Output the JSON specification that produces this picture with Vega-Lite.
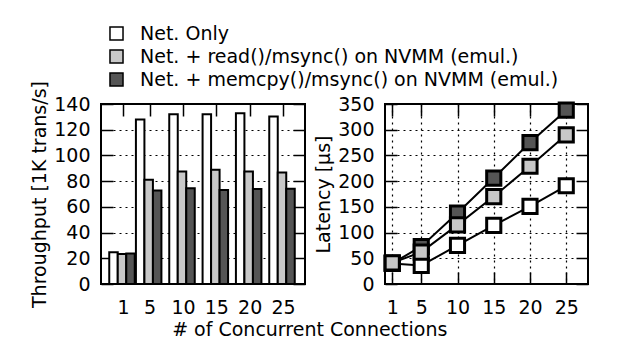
{
  "$schema": "https://vega.github.io/schema/vega-lite/v6.json",
  "padding": {"left": 29, "top": 24, "right": 5, "bottom": 5},
  "config": {
    "font": "DejaVu Sans",
    "view": {"stroke": "black", "strokeWidth": 2},
    "axis": {
      "labelFontSize": 19, "titleFontSize": 19, "titleFontWeight": "normal",
      "labelColor": "black", "titleColor": "black", "tickColor": "black",
      "tickWidth": 1.5, "tickSize": -12, "domain": false,
      "gridColor": "black", "gridDash": [2, 4], "gridWidth": 1.2, "gridOpacity": 1,
      "titlePadding": 4
    },
    "axisX": {"labelPadding": 26},
    "axisY": {"labelPadding": 23}
  },
  "datasets": {
    "perf": [
      {"conn": 1, "series": "Net. + memcpy()/msync() on NVMM (emul.)", "throughput": 23.8, "latency": 40},
      {"conn": 5, "series": "Net. + memcpy()/msync() on NVMM (emul.)", "throughput": 72.7, "latency": 73},
      {"conn": 10, "series": "Net. + memcpy()/msync() on NVMM (emul.)", "throughput": 74.5, "latency": 138},
      {"conn": 15, "series": "Net. + memcpy()/msync() on NVMM (emul.)", "throughput": 73.2, "latency": 206},
      {"conn": 20, "series": "Net. + memcpy()/msync() on NVMM (emul.)", "throughput": 73.8, "latency": 275},
      {"conn": 25, "series": "Net. + memcpy()/msync() on NVMM (emul.)", "throughput": 74, "latency": 338},
      {"conn": 1, "series": "Net. Only", "throughput": 24.6, "latency": 40},
      {"conn": 5, "series": "Net. Only", "throughput": 128, "latency": 36},
      {"conn": 10, "series": "Net. Only", "throughput": 132, "latency": 75},
      {"conn": 15, "series": "Net. Only", "throughput": 132, "latency": 114},
      {"conn": 20, "series": "Net. Only", "throughput": 132.8, "latency": 151},
      {"conn": 25, "series": "Net. Only", "throughput": 130.2, "latency": 191},
      {"conn": 1, "series": "Net. + read()/msync() on NVMM (emul.)", "throughput": 23.3, "latency": 41},
      {"conn": 5, "series": "Net. + read()/msync() on NVMM (emul.)", "throughput": 81, "latency": 62},
      {"conn": 10, "series": "Net. + read()/msync() on NVMM (emul.)", "throughput": 87.5, "latency": 115},
      {"conn": 15, "series": "Net. + read()/msync() on NVMM (emul.)", "throughput": 88.8, "latency": 170},
      {"conn": 20, "series": "Net. + read()/msync() on NVMM (emul.)", "throughput": 87.5, "latency": 229},
      {"conn": 25, "series": "Net. + read()/msync() on NVMM (emul.)", "throughput": 86.7, "latency": 290}
    ]
  },
  "title": {"text": "# of Concurrent Connections", "orient": "bottom", "anchor": "middle", "fontSize": 19, "fontWeight": "normal", "color": "black", "offset": 3},
  "spacing": 80,
  "bounds": "flush",
  "hconcat": [
    {
      "width": 204,
      "height": 180,
      "data": {"name": "perf"},
      "resolve": {"axis": {"x": "independent", "y": "independent"}},
      "layer": [
        {
          "transform": [{"filter": "datum.series === 'Net. Only'"}],
          "mark": {"type": "bar", "stroke": "black", "strokeWidth": 2, "size": 8.5, "xOffset": -9.5},
          "encoding": {
            "x": {"field": "conn", "type": "quantitative", "scale": {"domain": [-2.3, 28.3], "nice": false, "zero": false, "padding": 0},
                  "axis": {"values": [1, 5, 10, 15, 20, 25], "title": null, "grid": false}},
            "y": {"field": "throughput", "type": "quantitative", "scale": {"domain": [0, 140], "nice": false},
                  "axis": {"values": [0, 20, 40, 60, 80, 100, 120, 140], "title": "Throughput [1K trans/s]", "grid": true}},
            "color": {"field": "series", "type": "nominal",
                      "scale": {"domain": ["Net. Only", "Net. + read()/msync() on NVMM (emul.)", "Net. + memcpy()/msync() on NVMM (emul.)"],
                                "range": ["#ffffff", "#c8c8c8", "#555555"]},
                      "legend": {"orient": "none", "legendX": 6, "legendY": -80, "title": null, "labelFontSize": 19, "labelColor": "black",
                                 "symbolType": "square", "symbolSize": 170, "rowPadding": 2, "labelOffset": 14, "padding": 0, "labelLimit": 600,
                                 "symbolOpacity": 1,
                                 "encode": {"symbols": {"update": {"stroke": {"value": "black"}, "strokeWidth": {"value": 2}}}}}}
          }
        },
        {
          "transform": [{"filter": "datum.series === 'Net. + read()/msync() on NVMM (emul.)'"}],
          "mark": {"type": "bar", "stroke": "black", "strokeWidth": 2, "size": 8.5, "xOffset": -1},
          "encoding": {
            "x": {"field": "conn", "type": "quantitative", "axis": null},
            "y": {"field": "throughput", "type": "quantitative", "axis": null},
            "color": {"field": "series", "type": "nominal"}
          }
        },
        {
          "transform": [{"filter": "datum.series === 'Net. + memcpy()/msync() on NVMM (emul.)'"}],
          "mark": {"type": "bar", "stroke": "black", "strokeWidth": 2, "size": 8.5, "xOffset": 7.5},
          "encoding": {
            "x": {"field": "conn", "type": "quantitative",
                  "axis": {"orient": "top", "values": [1, 5, 10, 15, 20, 25], "labels": false, "title": null, "grid": false}},
            "y": {"field": "throughput", "type": "quantitative",
                  "axis": {"orient": "right", "values": [0, 20, 40, 60, 80, 100, 120, 140], "labels": false, "title": null, "grid": false}},
            "color": {"field": "series", "type": "nominal"}
          }
        }
      ]
    },
    {
      "width": 203,
      "height": 180,
      "data": {"name": "perf"},
      "resolve": {"axis": {"x": "independent", "y": "independent"}},
      "layer": [
        {
          "mark": {"type": "line", "color": "black", "strokeWidth": 2},
          "encoding": {
            "x": {"field": "conn", "type": "quantitative", "scale": {"domain": [0, 28], "nice": false, "zero": false},
                  "axis": {"values": [1, 5, 10, 15, 20, 25], "title": null, "grid": true}},
            "y": {"field": "latency", "type": "quantitative", "scale": {"domain": [0, 350], "nice": false},
                  "axis": {"values": [0, 50, 100, 150, 200, 250, 300, 350], "title": "Latency [μs]", "grid": true}},
            "detail": {"field": "series", "type": "nominal"}
          }
        },
        {
          "mark": {"type": "point", "shape": "square", "filled": true, "stroke": "black", "strokeWidth": 3, "size": 200, "opacity": 1},
          "encoding": {
            "x": {"field": "conn", "type": "quantitative",
                  "axis": {"orient": "top", "values": [1, 5, 10, 15, 20, 25], "labels": false, "title": null, "grid": false}},
            "y": {"field": "latency", "type": "quantitative",
                  "axis": {"orient": "right", "values": [0, 50, 100, 150, 200, 250, 300, 350], "labels": false, "title": null, "grid": false}},
            "color": {"field": "series", "type": "nominal"}
          }
        }
      ]
    }
  ]
}
